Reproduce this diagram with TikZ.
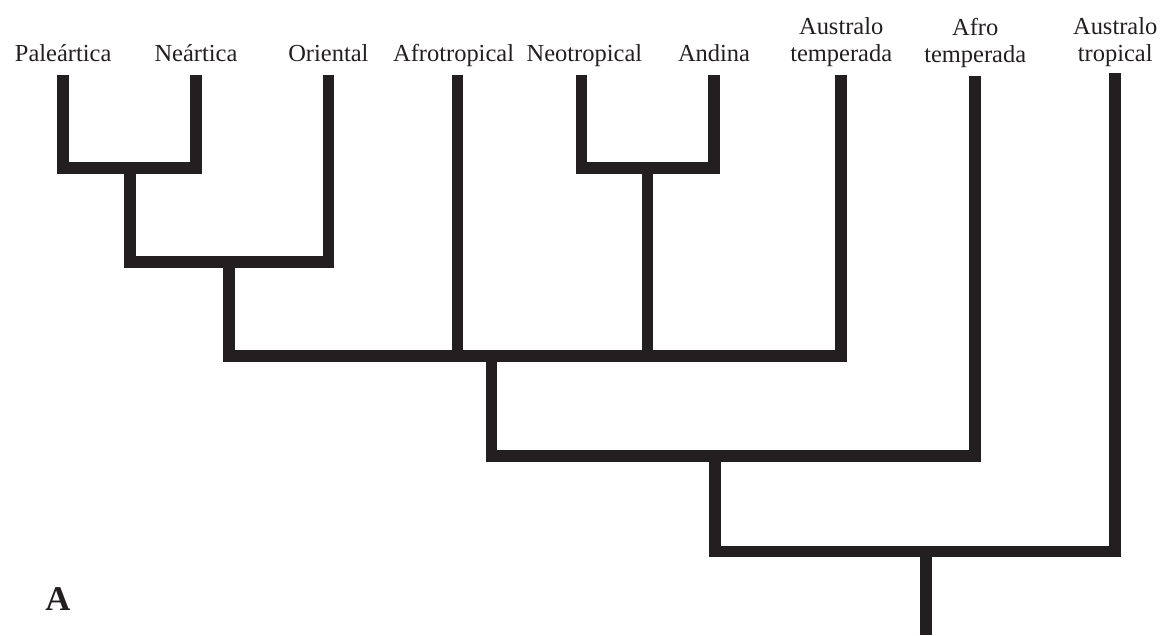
\documentclass[tikz,border=0pt]{standalone}
\usepackage{fontspec}
\setmainfont{Liberation Serif}
\usetikzlibrary{positioning}
\definecolor{ink}{HTML}{231F20}

\begin{document}
\begin{tikzpicture}[
  reg/.style={font=\fontsize{17.4}{19.2}\selectfont,text=ink,align=center,inner sep=0pt,text depth=0pt},
  bar/.style={draw=ink,line width=0.29cm,line join=miter}]
  \useasboundingbox (0,0) rectangle (29.05,15.875);
  % tips of the terminal branches
  \coordinate (pal-t) at (1.58,14.00);
  \coordinate (nea-t) at (4.90,14.00);
  \coordinate (ori-t) at (8.21,14.00);
  \coordinate (afr-t) at (11.44,14.00);
  \coordinate (neo-t) at (14.54,14.00);
  \coordinate (and-t) at (17.85,14.00);
  \coordinate (aut-t) at (21.03,14.00);
  \coordinate (aft-t) at (24.38,13.98);
  \coordinate (aus-t) at (27.88,14.05);
  % internal junctions
  \coordinate (j1) at (3.25,11.675);
  \coordinate (j2) at (5.725,9.325);
  \coordinate (j4) at (16.19,11.675);
  \coordinate (j3) at (12.29,6.975);
  \coordinate (j5) at (17.88,4.475);
  \coordinate (j6) at (23.15,2.09);
  \coordinate (root) at (23.15,0);
  % region names
  \node[reg,above=0.33cm of pal-t] (pal) {Paleártica};
  \node[reg,above=0.33cm of nea-t] (nea) {Neártica};
  \node[reg,above=0.33cm of ori-t] (ori) {Oriental};
  \node[reg,above=0.33cm of afr-t,xshift=-0.1cm] (afr) {Afrotropical};
  \node[reg,above=0.33cm of neo-t,xshift=0.07cm] (neo) {Neotropical};
  \node[reg,above=0.33cm of and-t] (and) {Andina};
  \node[reg,above=0.33cm of aut-t] (aut) {Australo\\temperada};
  \node[reg,above=0.33cm of aft-t] (aft) {Afro\\temperada};
  \node[reg,above=0.28cm of aus-t] (aus) {Australo\\tropical};
  \node[font=\fontsize{24.7}{28}\selectfont\bfseries,text=ink,inner sep=0pt,anchor=base west] (lbl) at (1.125,0.625) {A};
  % cladogram
  \draw[bar] (pal-t) |- (j1) -| (nea-t);
  \draw[bar] (j1) |- (j2) -| (ori-t);
  \draw[bar] (neo-t) |- (j4) -| (and-t);
  \draw[bar] (j2) |- (j3) -| (aut-t);
  \draw[bar] (afr-t) -- (afr-t |- j3);
  \draw[bar] (j4) -- (j4 |- j3);
  \draw[bar] (j3) |- (j5) -| (aft-t);
  \draw[bar] (j5) |- (j6) -| (aus-t);
  \draw[bar] (j6) -- (root);
\end{tikzpicture}
\end{document}
